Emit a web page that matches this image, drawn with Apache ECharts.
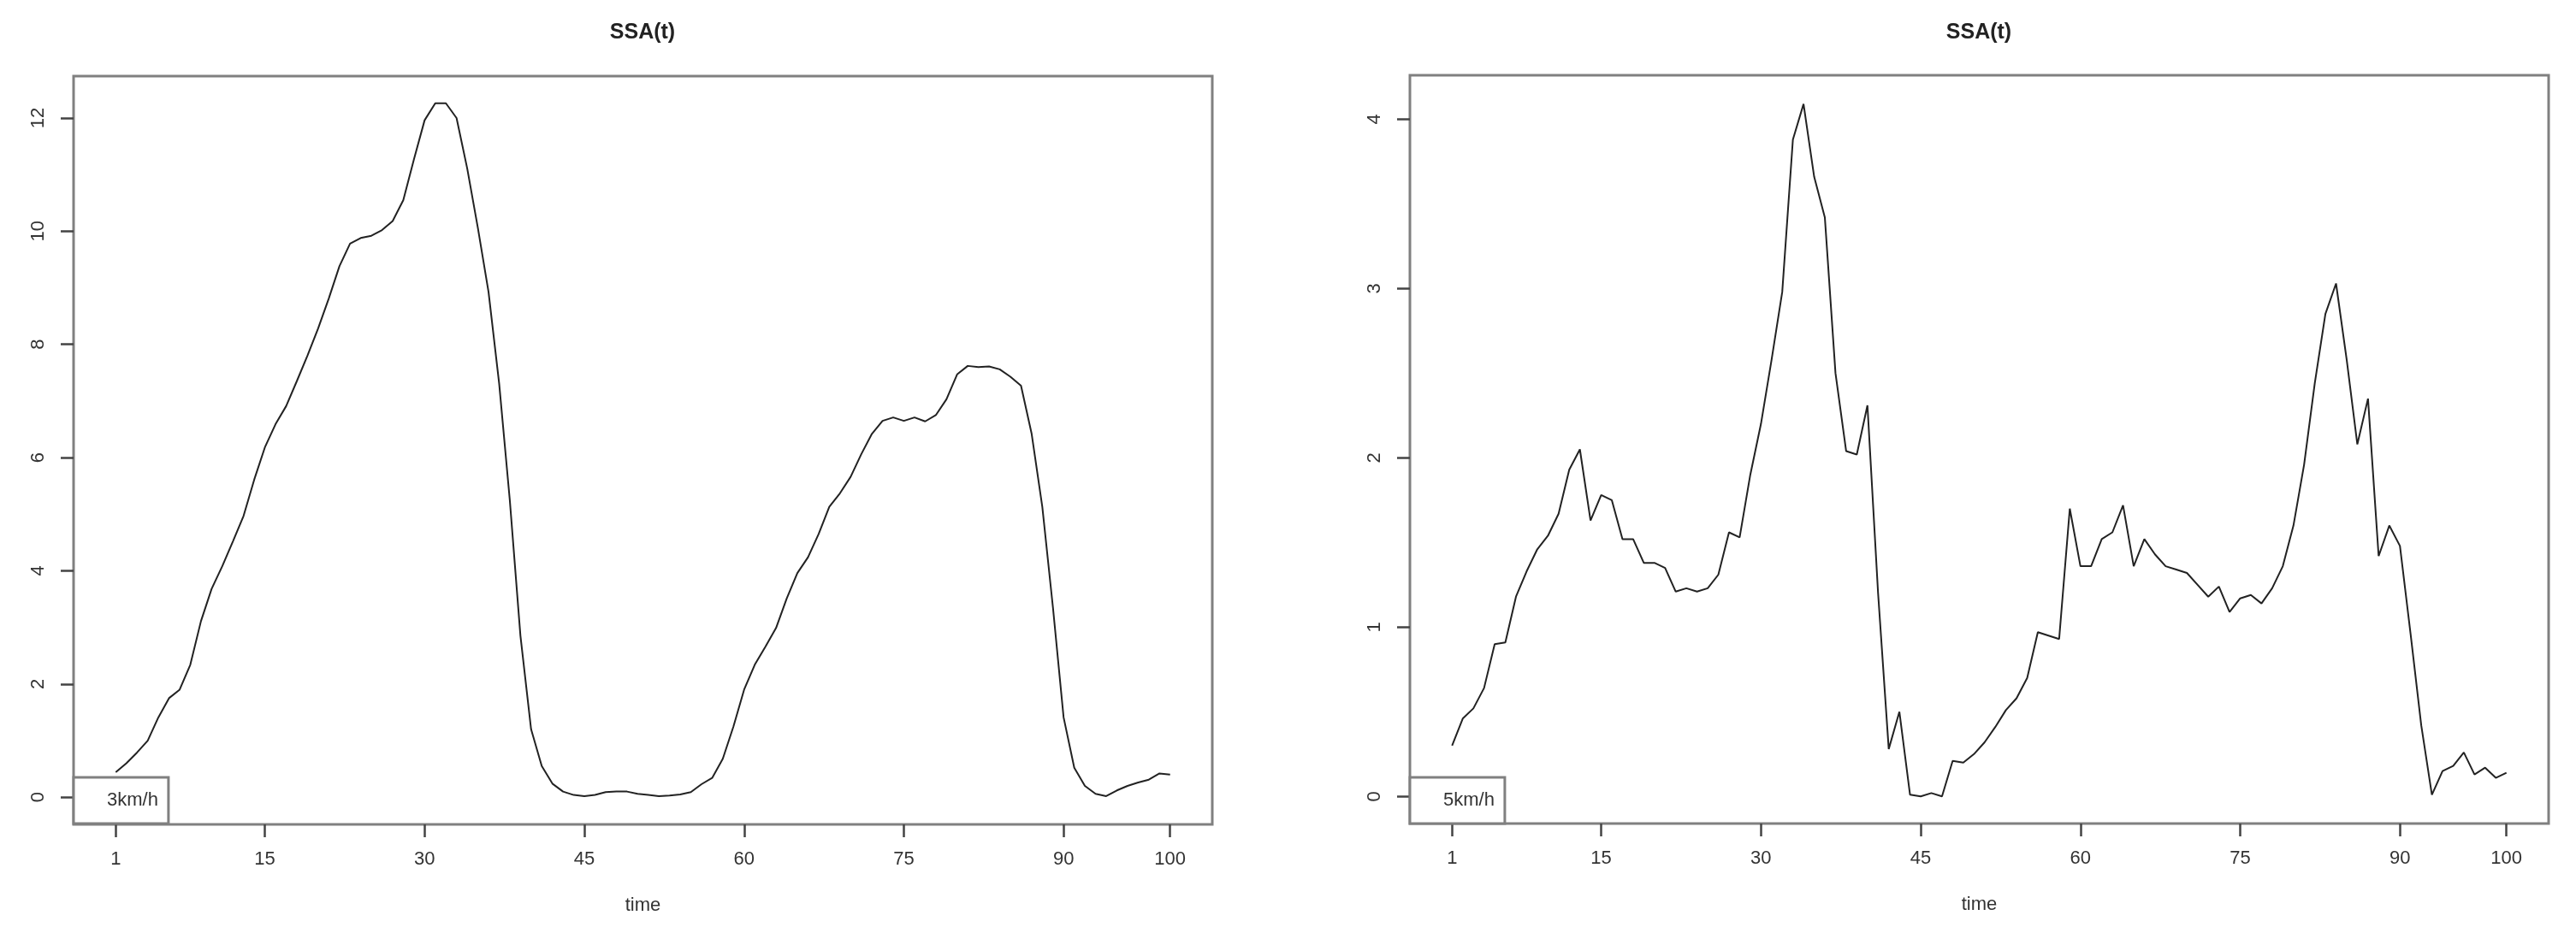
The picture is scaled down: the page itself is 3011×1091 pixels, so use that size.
<!DOCTYPE html>
<html>
<head>
<meta charset="utf-8">
<title>SSA(t)</title>
<script src="https://cdn.jsdelivr.net/npm/echarts@6/dist/echarts.min.js"></script>
<style>
  html, body { margin: 0; padding: 0; background: #fff; }
  #chart { width: 3011px; height: 1091px; }
</style>
</head>
<body>
<div id="chart"></div>
<script>
// SSA reconstruction, t = 1..100
var ssa3 = [0.44, 0.60, 0.79, 1.00, 1.41, 1.75, 1.90, 2.34, 3.11, 3.68,
  4.08, 4.52, 4.97, 5.61, 6.18, 6.59, 6.91, 7.35, 7.80, 8.28,
  8.81, 9.38, 9.78, 9.88, 9.92, 10.02, 10.18, 10.55, 11.27, 11.96,
  12.26, 12.26, 12.00, 11.11, 10.06, 8.93, 7.31, 5.25, 2.85, 1.20,
  0.55, 0.24, 0.10, 0.04, 0.02, 0.04, 0.09, 0.10, 0.10, 0.06,
  0.04, 0.02, 0.03, 0.05, 0.09, 0.23, 0.34, 0.68, 1.25, 1.90,
  2.34, 2.66, 2.99, 3.51, 3.96, 4.24, 4.65, 5.13, 5.37, 5.66,
  6.06, 6.42, 6.65, 6.71, 6.65, 6.71, 6.64, 6.75, 7.03, 7.47,
  7.62, 7.60, 7.61, 7.56, 7.43, 7.27, 6.42, 5.13, 3.35, 1.41,
  0.52, 0.20, 0.06, 0.02, 0.12, 0.20, 0.26, 0.31, 0.42, 0.40];

var ssa5 = [0.30, 0.46, 0.52, 0.64, 0.90, 0.91, 1.18, 1.33, 1.46, 1.54,
  1.67, 1.93, 2.05, 1.63, 1.78, 1.75, 1.52, 1.52, 1.38, 1.38,
  1.35, 1.21, 1.23, 1.21, 1.23, 1.31, 1.56, 1.53, 1.90, 2.20,
  2.58, 2.98, 3.88, 4.09, 3.66, 3.42, 2.50, 2.04, 2.02, 2.31,
  1.20, 0.28, 0.50, 0.01, 0.00, 0.02, 0.00, 0.21, 0.20, 0.25,
  0.32, 0.41, 0.51, 0.58, 0.70, 0.97, 0.95, 0.93, 1.70, 1.36,
  1.36, 1.52, 1.56, 1.72, 1.36, 1.52, 1.43, 1.36, 1.34, 1.32,
  1.25, 1.18, 1.24, 1.09, 1.17, 1.19, 1.14, 1.23, 1.36, 1.60,
  1.96, 2.44, 2.85, 3.03, 2.58, 2.08, 2.35, 1.42, 1.60, 1.48,
  0.96, 0.42, 0.01, 0.15, 0.18, 0.26, 0.13, 0.17, 0.11, 0.14];

var xTicks = [1, 15, 30, 45, 60, 75, 90, 100];
var yTicks3 = [0, 2, 4, 6, 8, 10, 12];
var yTicks5 = [0, 1, 2, 3, 4];

var FONT = '"Liberation Sans", Arial, sans-serif';
var frameColor = '#808080';
var tickColor = '#444';

function pairs(arr) {
  return arr.map(function (v, i) { return [i + 1, v]; });
}

function xAxis(idx) {
  return {
    type: 'value', gridIndex: idx, min: -2.96, max: 103.96,
    axisLine: { show: false, onZero: false },
    splitLine: { show: false },
    axisTick: { show: true, customValues: xTicks, length: 15, lineStyle: { color: tickColor, width: 2.5 } },
    axisLabel: { customValues: xTicks, margin: 30, fontSize: 22, color: '#333', fontFamily: FONT },
    name: 'time', nameLocation: 'middle', nameGap: 84,
    nameTextStyle: { fontSize: 22, color: '#333', fontFamily: FONT }
  };
}

function yAxis(idx, min, max, ticks) {
  return {
    type: 'value', gridIndex: idx, min: min, max: max,
    axisLine: { show: false, onZero: false },
    splitLine: { show: false },
    axisTick: { show: true, customValues: ticks, length: 15, lineStyle: { color: tickColor, width: 2.5 } },
    axisLabel: { customValues: ticks, rotate: 90, margin: 30, fontSize: 22, color: '#333', fontFamily: FONT }
  };
}

function legend(name, left) {
  return {
    data: [name], left: left, top: 909, selectedMode: false,
    icon: 'rect', itemWidth: 0, itemHeight: 0,
    padding: [16, 12, 16, 34],
    backgroundColor: '#fff', borderColor: frameColor, borderWidth: 3,
    textStyle: { fontSize: 22, color: '#333', fontFamily: FONT }
  };
}

var myChart = echarts.init(document.getElementById('chart'));

myChart.setOption({
  animation: false,
  backgroundColor: '#fff',
  title: [
    { text: 'SSA(t)', left: 751, top: 26, textAlign: 'center', padding: 0,
      textStyle: { fontSize: 25, fontWeight: 'bold', color: '#222', fontFamily: FONT } },
    { text: 'SSA(t)', left: 2313, top: 26, textAlign: 'center', padding: 0,
      textStyle: { fontSize: 25, fontWeight: 'bold', color: '#222', fontFamily: FONT } }
  ],
  legend: [legend('3km/h', 86), legend('5km/h', 1648)],
  grid: [
    { left: 86, top: 89, width: 1331, height: 875, show: true, borderColor: frameColor, borderWidth: 3 },
    { left: 1648, top: 88, width: 1331, height: 875, show: true, borderColor: frameColor, borderWidth: 3 }
  ],
  xAxis: [xAxis(0), xAxis(1)],
  yAxis: [
    yAxis(0, -0.48, 12.74, yTicks3),
    yAxis(1, -0.16, 4.26, yTicks5)
  ],
  series: [
    { type: 'line', name: '3km/h', xAxisIndex: 0, yAxisIndex: 0, data: pairs(ssa3),
      symbol: 'none', lineStyle: { color: '#222', width: 2 } },
    { type: 'line', name: '5km/h', xAxisIndex: 1, yAxisIndex: 1, data: pairs(ssa5),
      symbol: 'none', lineStyle: { color: '#222', width: 2 } }
  ]
});
</script>
</body>
</html>
